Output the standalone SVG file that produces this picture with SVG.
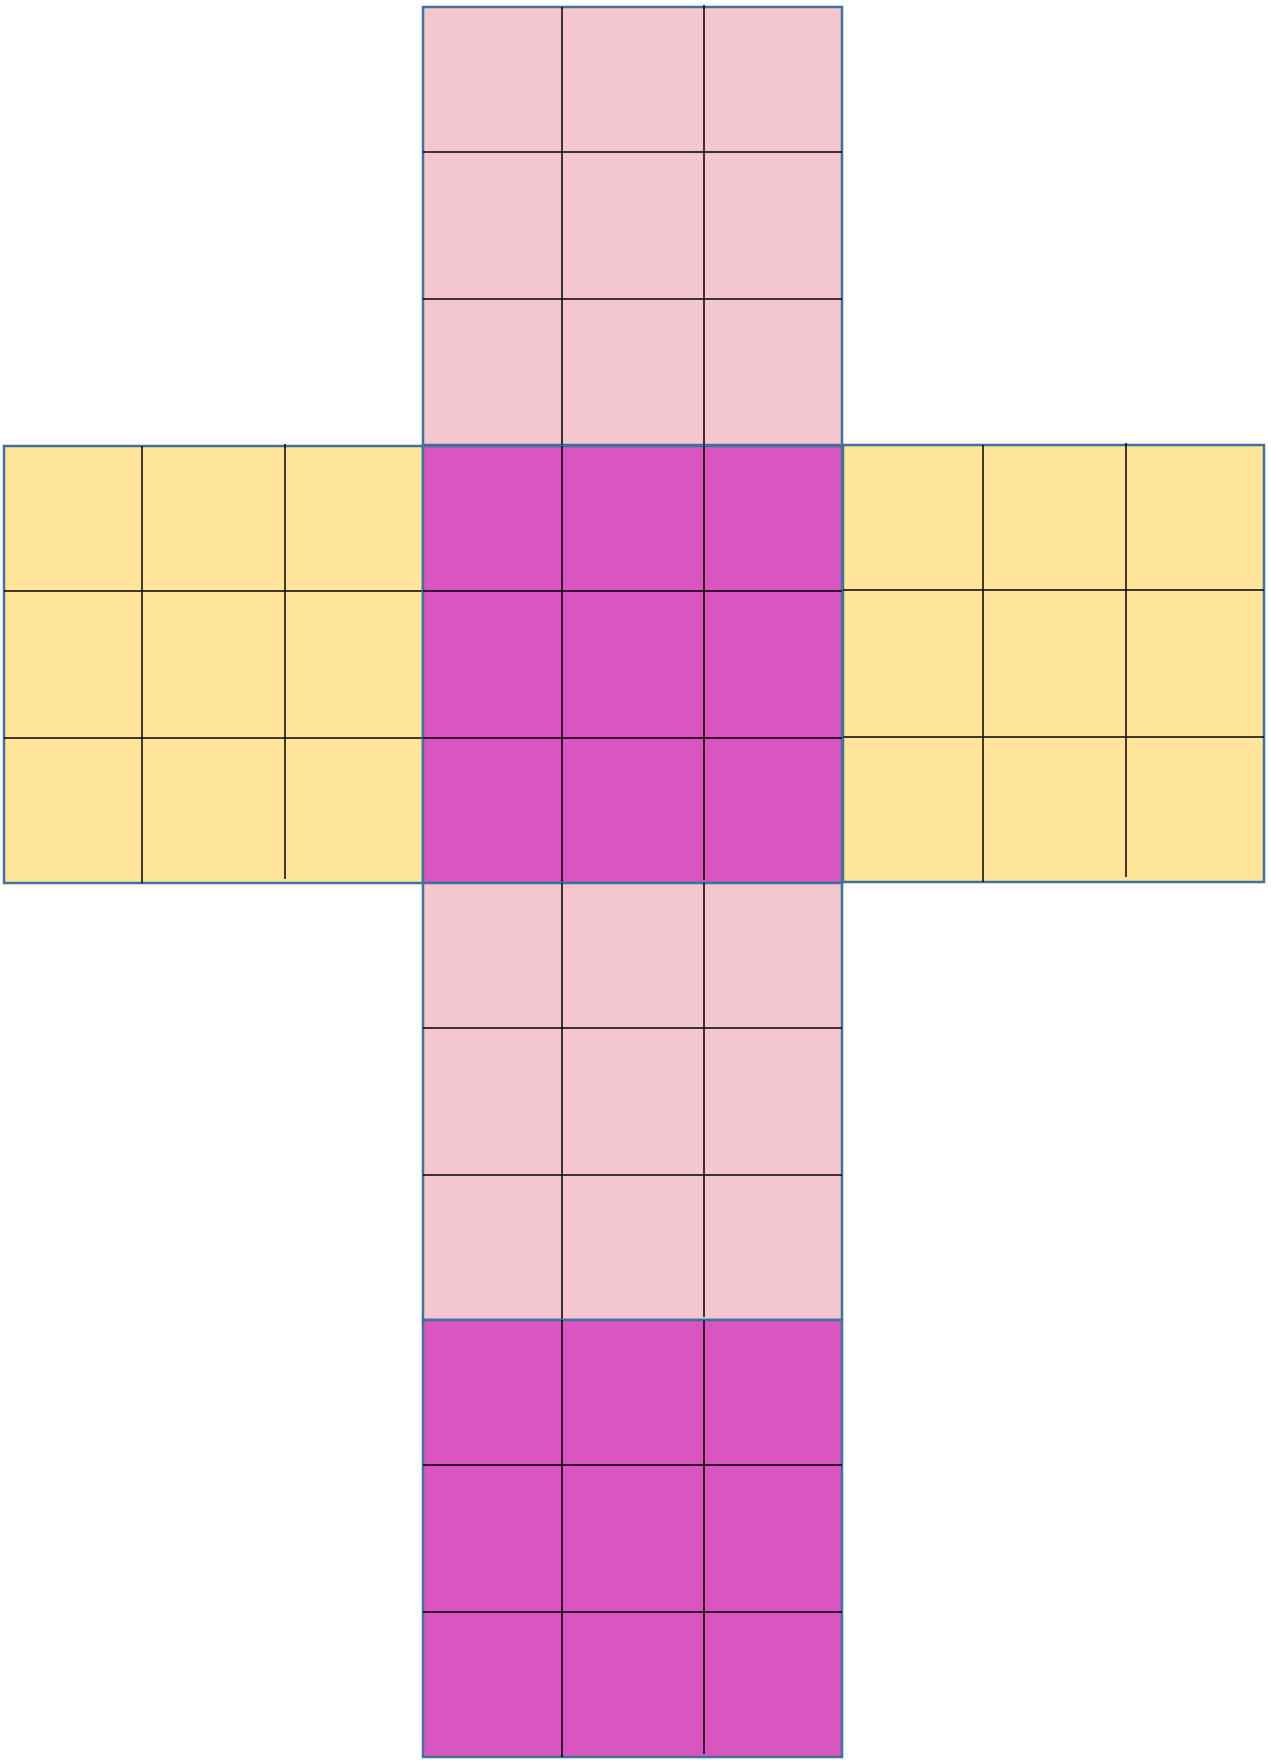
<svg xmlns="http://www.w3.org/2000/svg" width="1271" height="1760" viewBox="0 0 1271 1760">
<style>
.face{stroke:#41719C;stroke-width:2.5}
.pink{fill:#F4C6CF}
.mag{fill:#D955C0}
.yel{fill:#FFE599}
.grid{stroke:#000;stroke-width:1.5;fill:none}
</style>
<rect width="1271" height="1760" fill="#fff"/>
<g id="face-top">
<rect class="face pink" x="423" y="7" width="419" height="438"/>
<path class="grid" d="M562 7V445M704 5V445M423 152H842M423 299H842"/>
</g>
<g id="face-left">
<rect class="face yel" x="4" y="446" width="419" height="437"/>
<path class="grid" d="M142 446V883M285 444V879M4 591H423M4 738H423"/>
</g>
<g id="face-right">
<rect class="face yel" x="843" y="445" width="421" height="437"/>
<path class="grid" d="M983 445V882M1126 443V877M843 590H1264M843 737H1264"/>
</g>
<g id="face-center">
<rect class="face mag" x="423" y="446" width="419" height="437"/>
<path class="grid" d="M562 446V883M704 446V880M423 591H842M423 738H842"/>
</g>
<g id="face-bottom">
<rect class="face pink" x="423" y="883" width="419" height="437"/>
<path class="grid" d="M562 883V1320M704 883V1317M423 1028H842M423 1175H842"/>
</g>
<g id="face-back">
<rect class="face mag" x="423" y="1320" width="419" height="437"/>
<path class="grid" d="M562 1320V1757M704 1320V1754M423 1465H842M423 1612H842"/>
</g>
<g id="connectors"></g>
</svg>
